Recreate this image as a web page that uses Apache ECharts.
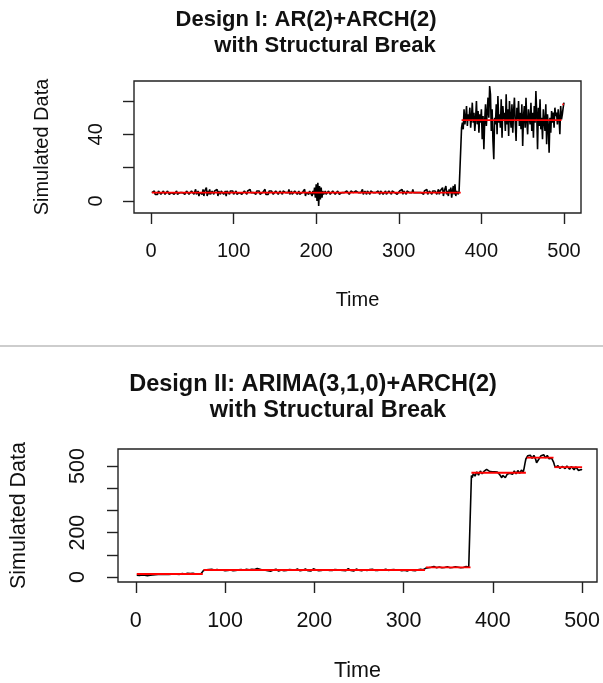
<!DOCTYPE html>
<html><head><meta charset="utf-8">
<script src="https://cdn.jsdelivr.net/npm/echarts@6/dist/echarts.min.js"></script>
<style>html,body{margin:0;padding:0;background:#fff}#c{width:603px;height:683px}</style>
</head><body><div id="c"></div>
<script>
// ---- data ----
const xTicks = [0,100,200,300,400,500];
const yTicks1 = [0,20,40,60];
const yLabels1 = [0,40];
const yTicks2 = [0,100,200,300,400,500];
const yLabels2 = [0,200,500];

const design1Values = [
5,4,5,6,4,5,5,4,6,5,5,4,5,5,6,5,4,5,5,6,5,4,5,5,5,
6,5,4,5,5,6,4,5,5,5,4,6,5,5,5,4,5,6,5,5,4,5,5,6,5,
5,4,5,7,4,5,6,3,5,6,5,4,7,3,6,5,8,3,6,4,7,4,5,6,5,
4,6,5,5,7,3,6,5,4,6,5,7,4,5,6,3,6,5,5,4,6,5,5,6,4,
5,5,6,4,5,5,5,6,5,4,5,5,6,5,5,4,6,5,5,7,5,4,6,5,5,
5,4,6,5,5,6,4,5,5,5,6,5,7,4,5,5,4,6,5,5,6,5,4,5,5,
6,5,5,4,5,6,5,5,4,6,5,5,5,4,6,5,7,4,5,6,4,5,5,6,5,
5,4,5,6,4,5,5,5,6,4,7,3,5,6,5,4,6,5,7,3,6,4,8,2,10,
0,11,-3,9,1,8,2,6,4,5,6,4,5,5,6,5,4,5,5,6,5,5,4,5,5,
6,5,4,5,5,5,6,4,5,5,5,6,5,5,4,5,6,5,5,5,4,5,6,5,5,
5,6,4,5,5,7,4,5,6,5,4,6,5,5,4,6,5,5,5,6,4,5,5,5,6,
5,4,6,5,7,4,5,5,6,4,5,5,6,5,5,4,6,5,5,5,6,5,4,5,5,
6,5,5,7,4,6,5,5,4,6,5,5,5,6,4,5,7,5,4,6,5,5,6,5,4,
5,5,6,5,4,6,5,5,7,4,5,6,5,5,4,6,5,5,6,5,4,5,7,4,6,
5,5,8,3,6,5,9,4,6,3,7,5,8,2,6,9,4,10,3,6,5,4,6,5,5,
44,47,43,55,46,50,57,45,52,48,56,44,50,59,47,53,42,49,60,46,54,41,52,47,55,
37,51,31,48,58,45,53,62,50,69,64,42,55,36,25,50,46,58,40,63,47,52,44,61,38,
57,49,53,42,64,46,55,39,60,50,44,58,41,54,62,47,36,56,49,60,45,53,43,58,33,
51,57,44,62,48,40,55,50,46,59,42,53,38,57,47,66,52,31,56,45,61,43,50,37,55,
48,42,58,34,52,45,29,50,41,54,47,53,44,56,51,53,46,55,50,40,57,49,52,56,59
];
const design1FitStart = [1,376,498];
const design1FitEnd   = [375,497,500];
const design1FitMean  = [5,48.5,58];

const design2Values = [
8,6,5,7,4,6,9,7,5,8,10,7,6,9,11,8,10,12,9,11,13,10,12,14,11,
13,15,12,14,11,13,16,14,12,15,13,11,14,16,13,15,17,14,12,15,13,16,14,12,15,
13,16,18,15,13,16,14,17,15,13,16,18,15,17,14,16,13,15,17,14,16,18,15,17,16,
30,33,35,32,36,38,34,37,39,35,33,36,31,28,32,34,30,27,31,33,29,32,35,31,28,
30,33,29,26,30,32,35,31,28,32,34,30,33,36,32,29,31,34,37,33,30,28,31,35,32,
29,33,36,39,35,32,30,34,37,41,38,34,31,35,33,29,32,30,27,31,34,30,28,32,29,
26,30,33,31,28,32,35,33,30,27,31,29,32,35,31,28,30,33,29,27,31,34,32,29,33,
30,27,31,34,32,36,33,30,28,32,35,31,29,33,36,34,31,28,32,30,27,31,34,37,33,
30,32,35,31,28,31,34,30,27,29,33,31,28,32,35,33,30,34,31,29,32,36,34,31,28,
32,30,27,31,34,32,29,33,30,28,31,35,38,34,31,29,33,30,27,31,33,36,32,29,31,
34,31,28,32,30,33,36,32,29,27,31,34,30,33,35,31,28,30,34,32,29,31,35,33,30,
27,31,29,32,35,31,28,30,33,36,32,29,31,34,30,27,31,33,29,32,35,31,28,30,33,
31,34,30,27,31,29,33,36,32,30,34,31,28,32,30,33,29,31,35,32,30,33,36,38,
40,43,46,42,45,48,44,41,43,47,44,40,42,46,43,45,49,45,42,44,47,43,41,44,46,43,
45,42,44,47,43,40,43,46,44,41,44,48,45,42,44,46,43,41,44,47,44,42,45,43,46,
458,448,466,471,455,462,474,468,459,466,478,472,465,470,476,481,474,485,490,483,477,472,476,474,475,
476,474,475,477,473,475,468,460,452,447,458,466,455,448,452,463,470,461,468,475,469,463,472,478,470,
465,473,480,474,467,476,482,477,472,490,512,532,
541,546,538,544,549,540,535,543,548,539,530,515,507,520,534,541,547,552,556,551,544,537,542,548,540,533,538,529,535,526,518,
505,494,488,496,502,497,490,485,493,499,503,496,489,494,500,497,491,486,492,498,495,489,483,490,496,493,487,480,476,481,485,483
];
const design2FitStart = [1,76,325,376,438,469];
const design2FitEnd   = [75,324,375,437,468,500];
const design2FitMean  = [13.5,31.5,43.6,470,538,495];

// ---- chart ----
const FONT = 'Liberation Sans, Arial, sans-serif';
const chart = echarts.init(document.getElementById('c'), null, {renderer:'canvas'});

function xAxisOpt(grid, min, max, fs, margin, gap){
  return {
    type:'value', gridIndex:grid, min:min, max:max,
    axisLine:{show:false, onZero:false},
    splitLine:{show:false},
    axisTick:{show:true, customValues:xTicks, length:11, lineStyle:{color:'#222', width:1.4}},
    axisLabel:{customValues:xTicks, margin:margin, fontSize:fs, color:'#111', fontFamily:FONT},
    name:'Time', nameLocation:'middle', nameGap:gap,
    nameTextStyle:{fontSize:fs, color:'#111', fontFamily:FONT}
  };
}
function yAxisOpt(grid, min, max, ticks, labels, fs, margin, gap){
  return {
    type:'value', gridIndex:grid, min:min, max:max,
    axisLine:{show:false, onZero:false},
    splitLine:{show:false},
    axisTick:{show:true, customValues:ticks, length:11, lineStyle:{color:'#222', width:1.4}},
    axisLabel:{customValues:labels, rotate:90, margin:margin, fontSize:fs, color:'#111', fontFamily:FONT},
    name:'Simulated Data', nameLocation:'middle', nameGap:gap, nameRotate:90,
    nameTextStyle:{fontSize:fs, color:'#111', fontFamily:FONT}
  };
}

const series = [];
series.push({
  type:'line', xAxisIndex:0, yAxisIndex:0, showSymbol:false, z:2,
  lineStyle:{color:'#000', width:1.6},
  data: design1Values.map((v,i)=>[i+1, v])
});
series.push({
  type:'line', xAxisIndex:1, yAxisIndex:1, showSymbol:false, z:2,
  lineStyle:{color:'#000', width:1.6},
  data: design2Values.map((v,i)=>[i+1, v])
});
design1FitMean.forEach((m,k)=>{
  series.push({type:'line', xAxisIndex:0, yAxisIndex:0, showSymbol:false, z:3,
    lineStyle:{color:'#ff0000', width:1.8},
    data:[[design1FitStart[k], m],[design1FitEnd[k], m]]});
});
design2FitMean.forEach((m,k)=>{
  series.push({type:'line', xAxisIndex:1, yAxisIndex:1, showSymbol:false, z:3,
    lineStyle:{color:'#ff0000', width:1.8},
    data:[[design2FitStart[k], m],[design2FitEnd[k], m]]});
});

chart.setOption({
  animation:false,
  backgroundColor:'#fff',
  title:[
    {text:'Design I: AR(2)+ARCH(2)', left:306, top:9, padding:0, textAlign:'center',
     textStyle:{fontSize:22, fontWeight:'bold', color:'#111', fontFamily:FONT}},
    {text:'with Structural Break', left:325, top:35, padding:0, textAlign:'center',
     textStyle:{fontSize:22, fontWeight:'bold', color:'#111', fontFamily:FONT}},
    {text:'Design II: ARIMA(3,1,0)+ARCH(2)', left:313, top:373, padding:0, textAlign:'center',
     textStyle:{fontSize:23.5, fontWeight:'bold', color:'#111', fontFamily:FONT}},
    {text:'with Structural Break', left:328, top:399, padding:0, textAlign:'center',
     textStyle:{fontSize:23.5, fontWeight:'bold', color:'#111', fontFamily:FONT}}
  ],
  graphic:[
    {type:'line', shape:{x1:0, y1:346, x2:603, y2:346}, style:{stroke:'#bdbdbd', lineWidth:1.5}}
  ],
  grid:[
    {left:134, top:81, width:447, height:132, show:true, borderColor:'#222', borderWidth:1.4, backgroundColor:'transparent', containLabel:false},
    {left:117, top:449, width:483, height:133, show:true, borderColor:'#222', borderWidth:1.4, backgroundColor:'transparent', containLabel:false}
  ],
  xAxis:[
    xAxisOpt(0, -20.6, 520.6, 20, 28, 77),
    xAxisOpt(1, -20, 516.7, 21.5, 28, 78)
  ],
  yAxis:[
    yAxisOpt(0, -7.2, 72, yTicks1, yLabels1, 20, 28, 82),
    yAxisOpt(1, -22.5, 577, yTicks2, yLabels2, 21.5, 29, 88)
  ],
  series:series
});
</script>
</body></html>
